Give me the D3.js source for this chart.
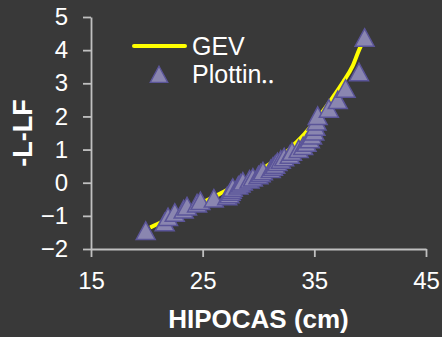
<!DOCTYPE html>
<html>
<head>
<meta charset="utf-8">
<script src="https://cdn.jsdelivr.net/npm/d3@7"></script>
<style>
  html, body { margin: 0; padding: 0; background: #393939; }
  svg { display: block; font-family: "Liberation Sans", Arial, sans-serif; }
</style>
</head>
<body>
<div id="chart"></div>
<script>
// plotting positions (HIPOCAS cm, reduced variate)
const obsX = [19.9, 21.6, 21.9, 22.5, 23.3, 23.6, 24.5, 24.8, 26.0, 27.2,
              27.4, 27.5, 27.6, 27.7, 28.2, 28.4, 28.6, 29.2, 29.5, 30.0,
              30.2, 30.4, 31.1, 31.3, 31.5, 31.7, 32.0, 32.3, 32.8, 33.0,
              33.6, 34.0, 34.3, 34.6, 34.8, 35.0, 35.1, 35.2, 35.3, 36.3,
              37.1, 37.8, 39.0, 39.5];
const obsY = [-1.47, -1.21, -1.05, -0.92, -0.82, -0.73, -0.64, -0.57, -0.49, -0.42,
              -0.36, -0.29, -0.23, -0.17, -0.10, -0.04, 0.02, 0.08, 0.14, 0.21,
              0.27, 0.33, 0.40, 0.47, 0.53, 0.61, 0.68, 0.75, 0.83, 0.92,
              1.00, 1.09, 1.19, 1.30, 1.41, 1.53, 1.67, 1.83, 2.00, 2.22,
              2.48, 2.82, 3.32, 4.36];

// fitted GEV curve
const gevX = [20.3, 21.0, 22.0, 23.0, 24.0, 25.2, 26.4, 27.5, 28.5, 29.5, 30.5,
              31.5, 32.5, 33.3, 34.0, 34.8, 35.6, 36.4, 37.0, 37.6, 38.4, 39.0, 39.2];
const gevY = [-1.35, -1.24, -1.08, -0.93, -0.77, -0.56, -0.36, -0.16, 0.03, 0.23, 0.45,
              0.68, 0.93, 1.19, 1.43, 1.75, 2.08, 2.45, 2.75, 3.05, 3.5, 4.0, 4.15];

const xTicks = [15, 25, 35, 45];
const yTicks = [-2, -1, 0, 1, 2, 3, 4, 5];
const seriesNames = ["GEV", "Plottin\u2025"];

const W = 442, H = 337;
const margin = { top: 17, right: 16, bottom: 88, left: 91 };
const width = W - margin.left - margin.right;
const height = H - margin.top - margin.bottom;

const axisColor = "#c0c0c0";
const triFill = "#8a86b0";
const triStroke = "#5b5599";

const svg = d3.select("#chart").append("svg")
  .attr("width", W)
  .attr("height", H)
  .style("background", "#393939");

const g = svg.append("g")
  .attr("transform", `translate(${margin.left},${margin.top})`);

const x = d3.scaleLinear().domain([15, 45]).range([0, width]);
const y = d3.scaleLinear().domain([-2, 5]).range([height, 0]);

const xAxis = g.append("g")
  .attr("transform", `translate(0,${height})`)
  .call(d3.axisBottom(x).tickValues(xTicks).tickFormat(d3.format("d"))
    .tickSize(8).tickSizeOuter(0).tickPadding(15));

const yAxis = g.append("g")
  .call(d3.axisLeft(y).tickValues(yTicks).tickFormat(d3.format("d"))
    .tickSize(8).tickSizeOuter(0).tickPadding(15));

[xAxis, yAxis].forEach(a => {
  a.selectAll("path, line").attr("stroke", axisColor).attr("stroke-width", 1.8);
  a.selectAll("text")
    .attr("fill", "#ffffff")
    .style("font-size", "24px")
    .style("font-family", "Liberation Sans, Arial, sans-serif");
});

svg.append("text")
  .attr("x", margin.left + width / 2)
  .attr("y", 328)
  .attr("text-anchor", "middle")
  .attr("fill", "#ffffff")
  .style("font-size", "26px")
  .style("font-weight", "bold")
  .text("HIPOCAS (cm)");

svg.append("text")
  .attr("transform", `translate(32,${margin.top + height / 2}) rotate(-90)`)
  .attr("text-anchor", "middle")
  .attr("fill", "#ffffff")
  .style("font-size", "27px")
  .style("font-weight", "bold")
  .text("-L-LF");

// GEV line
const line = d3.line()
  .x((d, i) => x(gevX[i]))
  .y((d, i) => y(gevY[i]))
  .curve(d3.curveMonotoneX);

g.append("path")
  .datum(gevX)
  .attr("d", line)
  .attr("fill", "none")
  .attr("stroke", "#ffff00")
  .attr("stroke-width", 4);

// triangle markers
const tri = "M0,-9.5L9.5,8L-9.5,8Z";

g.selectAll("path.pt")
  .data(obsX)
  .enter()
  .append("path")
  .attr("class", "pt")
  .attr("transform", (d, i) => `translate(${x(d)},${y(obsY[i])})`)
  .attr("d", tri)
  .attr("fill", triFill)
  .attr("stroke", triStroke)
  .attr("stroke-width", 1.5);

// legend
const legend = svg.append("g");
legend.append("line")
  .attr("x1", 134).attr("x2", 185)
  .attr("y1", 46).attr("y2", 46)
  .attr("stroke", "#ffff00")
  .attr("stroke-width", 4)
  .attr("stroke-linecap", "round");
legend.append("path")
  .attr("transform", "translate(159,75) scale(0.92)")
  .attr("d", tri)
  .attr("fill", triFill)
  .attr("stroke", triStroke)
  .attr("stroke-width", 1.5);
legend.selectAll("text")
  .data(seriesNames)
  .enter()
  .append("text")
  .attr("x", 192)
  .attr("y", (d, i) => 55 + i * 28)
  .attr("fill", "#ffffff")
  .style("font-size", "25px")
  .text(d => d);
</script>
</body>
</html>
